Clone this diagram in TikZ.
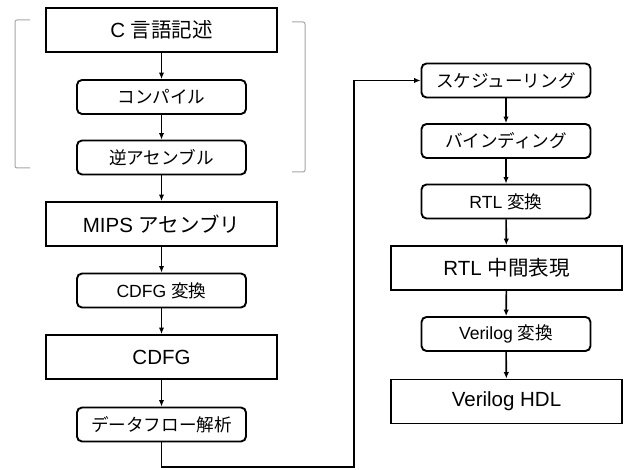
\documentclass[tikz,border=0pt]{standalone}
\usepackage{fontspec}
\setmainfont{Liberation Sans}
\newfontfamily\jp{Noto Sans CJK JP}
\usetikzlibrary{arrows.meta}
\begin{document}
\begin{tikzpicture}[x=1pt,y=-1pt,
 bigbox/.style={draw,line width=1.9pt,minimum width=231pt,minimum height=44pt,inner sep=0pt,font=\fontsize{20.5}{24}\selectfont},
 smallbox/.style={draw,line width=1.9pt,rounded corners=5pt,minimum width=169pt,minimum height=34pt,inner sep=0pt,font=\fontsize{17.6}{20}\selectfont},
 arr/.style={line width=1.6pt,-{Latex[length=6.5pt,width=5.5pt]}},
 brk/.style={draw=gray!70,line width=1pt,rounded corners=2pt}]
\fill[white] (0,0) rectangle (625,470);
\useasboundingbox (0,0) rectangle (625,470);
% left column
\node[bigbox]   (c)    at (161.5,30)    {C {\jp 言語記述}};
\node[smallbox] (comp) at (161.5,97)    {\jp コンパイル};
\node[smallbox] (dis)  at (161.5,157.5) {\jp 逆アセンブル};
\node[bigbox]   (mips) at (161.5,224)   {MIPS {\jp アセンブリ}};
\node[smallbox] (cconv) at (161.5,290.5) {CDFG {\jp 変換}};
\node[bigbox]   (cdfg) at (161.5,357)   {CDFG};
\node[smallbox] (dfa)  at (161.5,424.5) {\jp データフロー解析};
% right column
\node[smallbox] (sch)  at (506,80.5)  {\jp スケジューリング};
\node[smallbox] (bind) at (506,141)   {\jp バインディング};
\node[smallbox] (rconv) at (506,201.5) {RTL {\jp 変換}};
\node[bigbox]   (rtl)  at (506.5,268) {RTL {\jp 中間表現}};
\node[smallbox] (vconv) at (506,334)  {Verilog {\jp 変換}};
\node[bigbox]   (vhdl) at (506.5,401.5) {Verilog HDL};
% arrows
\draw[arr] (c) -- (comp);
\draw[arr] (comp) -- (dis);
\draw[arr] (dis) -- (mips);
\draw[arr] (mips) -- (cconv);
\draw[arr] (cconv) -- (cdfg);
\draw[arr] (cdfg) -- (dfa);
\draw[arr] (sch) -- (bind);
\draw[arr] (bind) -- (rconv);
\draw[arr] (rconv) -- (rtl);
\draw[arr] (rtl) -- (vconv);
\draw[arr] (vconv) -- (vhdl);
\coordinate (j1) at (161.5,467);
\coordinate (j2) at (354,467);
\coordinate (j3) at (354,80.5);
\draw[arr] (dfa.south) -- (j1) -- (j2) -- (j3) -- (sch.west);
% brackets
\draw[brk] (30,20) -- (15,20) -- (15,168) -- (30,168);
\draw[brk] (292,22) -- (305,22) -- (305,172) -- (292,172);
\end{tikzpicture}
\end{document}
